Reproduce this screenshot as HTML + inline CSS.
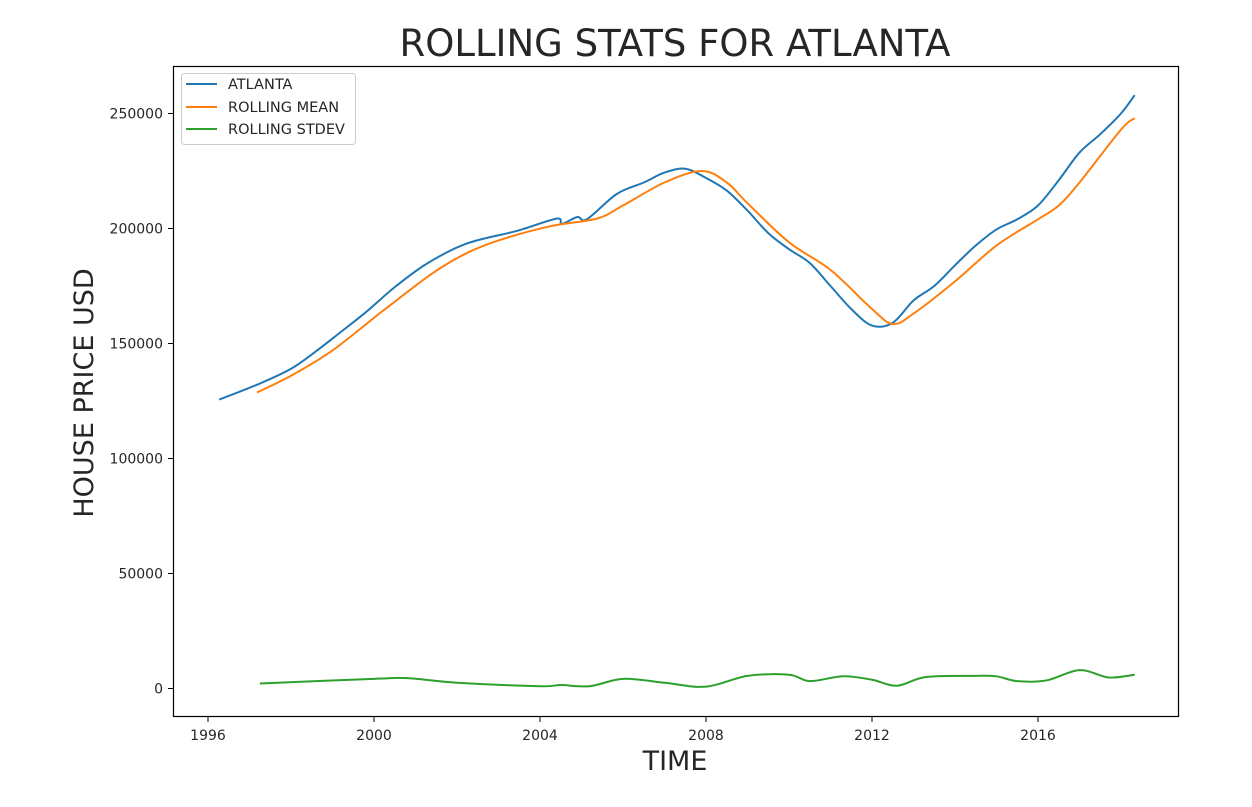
<!DOCTYPE html>
<html><head><meta charset="utf-8"><style>
body{margin:0;background:#fff;}
svg text{font-family:"DejaVu Sans","Liberation Sans",sans-serif;fill:#262626;}
</style></head><body>
<svg id="chart" width="1252" height="802">
<text x="675" y="56" font-size="37" text-anchor="middle">ROLLING STATS FOR ATLANTA</text>
<text x="675" y="770" font-size="27" text-anchor="middle">TIME</text>
<text transform="translate(93,393) rotate(-90)" font-size="27" text-anchor="middle">HOUSE PRICE USD</text>
<g id="ticks"></g>
<g id="series"></g>
<rect x="173.5" y="66.5" width="1005" height="650" fill="none" stroke="#000" stroke-width="1.2"/>
<g>
<rect x="181.5" y="73.5" width="174" height="71" rx="3" fill="#fff" stroke="#ccc"/>
<line x1="186" y1="84" x2="217" y2="84" stroke="#1f77b4" stroke-width="2"/>
<text x="228" y="89" font-size="14.5">ATLANTA</text>
<line x1="186" y1="107" x2="217" y2="107" stroke="#ff7f0e" stroke-width="2"/>
<text x="228" y="112" font-size="14.5">ROLLING MEAN</text>
<line x1="186" y1="129" x2="217" y2="129" stroke="#2ca02c" stroke-width="2"/>
<text x="228" y="134" font-size="14.5">ROLLING STDEV</text>
</g>
</svg>
<script>
const xTicks=[1996,2000,2004,2008,2012,2016];
const yTicks=[0,50000,100000,150000,200000,250000];
const atlYears=[1996.27,1997.25,1998.0,1998.63,1999.2,1999.83,2000.5,2001.28,2002.24,2003.45,2004.4,2004.53,2004.9,2005.13,2005.85,2006.5,2007,2007.5,2008,2008.5,2009,2009.5,2010,2010.5,2011,2011.5,2012,2012.5,2013,2013.5,2014,2014.5,2015,2015.5,2016,2016.5,2017,2017.5,2018,2018.33];
const atlValues=[125600,132600,139000,147000,155000,164000,174500,184800,193500,199000,204300,202000,205000,204000,215000,220000,224300,226000,222000,216500,207800,198000,191000,185000,175000,165000,157800,159000,168700,175000,184000,192600,199600,204000,210000,221000,233000,241000,250000,258000];
const meanYears=[1997.18,1998,1999,2000.2,2001.4,2002.2,2003,2004.25,2005.37,2006,2007,2007.9,2008.5,2009,2010,2011,2012,2012.5,2013,2014,2015,2016,2016.5,2017,2018,2018.33];
const meanValues=[128700,136000,147000,164000,180400,189000,194800,201000,204300,210000,220000,225000,220000,211000,194000,182000,165000,158500,163000,177000,192600,204000,210000,220000,243000,248000];
const stdYears=[1997.25,2000,2000.8,2002,2004,2004.5,2005.2,2006,2007,2008,2009,2010,2010.5,2011.3,2012,2012.6,2013.3,2014.5,2015,2015.5,2016.2,2017,2017.7,2018.33];
const stdValues=[2200,4200,4500,2500,1000,1500,1000,4200,2500,800,5500,6000,3200,5300,3800,1200,5000,5500,5300,3200,3500,8000,4800,6000];
const NS="http://www.w3.org/2000/svg";
const xs=y=>208+(y-1996)*41.5;
const ys=v=>688.5-v*0.0023;
const tg=document.getElementById('ticks');
function mk(tag,attrs,parent){const e=document.createElementNS(NS,tag);for(const k in attrs)e.setAttribute(k,attrs[k]);parent.appendChild(e);return e;}
xTicks.forEach(t=>{
 const l=mk('line',{x1:xs(t),x2:xs(t),y1:717,y2:722,stroke:'#000'},tg);
 
 
 const tx=mk('text',{x:xs(t),y:740,'font-size':14,'text-anchor':'middle'},tg);tx.textContent=t;
 
 
});
yTicks.forEach(t=>{
 const l=mk('line',{x1:168,x2:173,y1:ys(t),y2:ys(t),stroke:'#000'},tg);
 
 
 const tx=mk('text',{x:163,y:ys(t)+5,'font-size':14,'text-anchor':'end'},tg);tx.textContent=t;
 
 
});
function pathD(xa,va){
 const p=xa.map((x,i)=>[xs(x),ys(va[i])]);
 let d='M'+p[0][0]+','+p[0][1];
 for(let i=0;i<p.length-1;i++){
  const p0=p[Math.max(0,i-1)],p1=p[i],p2=p[i+1],p3=p[Math.min(p.length-1,i+2)];
  const c1=[p1[0]+(p2[0]-p0[0])/6,p1[1]+(p2[1]-p0[1])/6];
  const c2=[p2[0]-(p3[0]-p1[0])/6,p2[1]-(p3[1]-p1[1])/6];
  d+=' C'+c1+' '+c2+' '+p2;
 }
 return d;
}
const sg=document.getElementById('series');
const a=mk('path',{d:pathD(atlYears,atlValues),fill:'none',stroke:'#1f77b4','stroke-width':2},sg);


const m=mk('path',{d:pathD(meanYears,meanValues),fill:'none',stroke:'#ff7f0e','stroke-width':2},sg);


const s=mk('path',{d:pathD(stdYears,stdValues),fill:'none',stroke:'#2ca02c','stroke-width':2},sg);


</script>
</body></html>
